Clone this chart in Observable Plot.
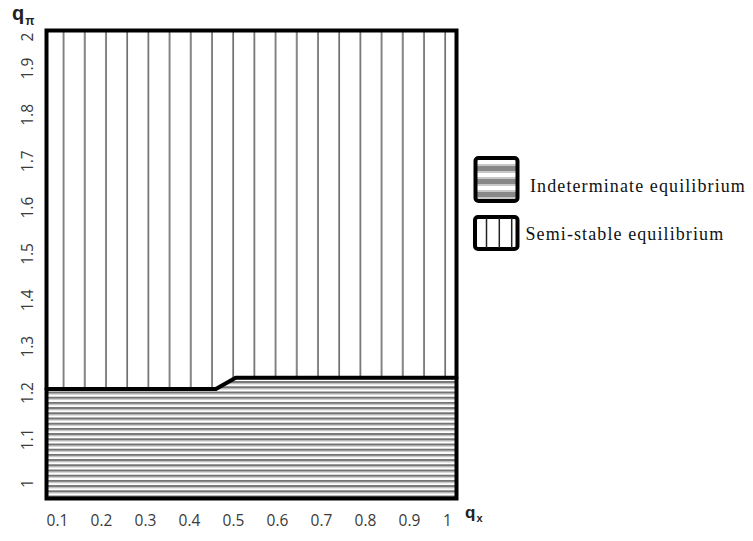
<!DOCTYPE html>
<html><head><meta charset="utf-8">
<script src="https://cdn.jsdelivr.net/npm/d3@7"></script>
<script src="https://cdn.jsdelivr.net/npm/@observablehq/plot@0.6"></script>
<style>body{margin:0;background:#fff}</style>
</head><body><div id="chart"></div>
<script>
// Boundary between the two equilibrium regions
const qxBoundary = [0.075, 0.46, 0.505, 1.007];
const qpiBoundary = [1.232, 1.232, 1.2565, 1.2565];
const xTicks = [0.1, 0.2, 0.3, 0.4, 0.5, 0.6, 0.7, 0.8, 0.9, 1];
const yTicks = [1, 1.1, 1.2, 1.3, 1.4, 1.5, 1.6, 1.7, 1.8, 1.9, 2];
const seriesNames = ["Indeterminate equilibrium", "Semi-stable equilibrium"];
const xDomain = [0.075, 1.007];
const yDomain = [0.996, 2.0056];

const boundary = qxBoundary.map((qx, i) => ({qx, qpi: qpiBoundary[i]}));
const tickStyle = {fontFamily: "'Open Sans', sans-serif", fontSize: 15.5, fill: "#3a3a3a"};
const inner = (arr) => arr.filter(d => d !== arr[0] && d !== arr[arr.length - 1]);

const chart = Plot.plot({
  width: 753, height: 541,
  marginLeft: 46, marginRight: 297, marginTop: 30, marginBottom: 43,
  x: {domain: xDomain, axis: null},
  y: {domain: yDomain, axis: null},
  marks: [
    Plot.areaY(boundary, {x: "qx", y1: () => yDomain[0], y2: "qpi", fill: "url(#hstripes)"}),
    Plot.areaY(boundary, {x: "qx", y1: "qpi", y2: () => yDomain[1], fill: "url(#vlines)"}),
    Plot.line(boundary, {x: "qx", y: "qpi", stroke: "#000", strokeWidth: 4}),
    Plot.frame({stroke: "#000", strokeWidth: 4}),
    // x tick labels
    Plot.text(xTicks.filter(d => d < 1), {x: d => d, frameAnchor: "bottom", dy: 27, text: d => String(d), ...tickStyle}),
    Plot.text(xTicks.filter(d => d === 1), {x: d => d, frameAnchor: "bottom", dy: 27, dx: -6, text: d => String(d), ...tickStyle}),
    // y tick labels (rotated)
    Plot.text(inner(yTicks), {y: d => d, frameAnchor: "left", dx: -18.5, rotate: -90, text: d => String(d), ...tickStyle}),
    Plot.text([yTicks[0]], {y: d => d, frameAnchor: "left", dx: -18.5, dy: -8.7, rotate: -90, text: d => String(d), ...tickStyle}),
    Plot.text([yTicks[yTicks.length - 1]], {y: d => d, frameAnchor: "left", dx: -18.5, dy: 8.4, rotate: -90, text: d => String(d), ...tickStyle})
  ]
});

const svg = d3.select(chart);
const defs = svg.insert("defs", ":first-child");
// vertical hatch
const v = defs.append("pattern").attr("id", "vlines").attr("patternUnits", "userSpaceOnUse")
  .attr("x", 10.5).attr("y", 0).attr("width", 21.2).attr("height", 10);
v.append("rect").attr("width", 21.2).attr("height", 10).attr("fill", "#fff");
v.append("rect").attr("x", 10).attr("width", 1.4).attr("height", 10).attr("fill", "#505050");
// horizontal stripes
const h = defs.append("pattern").attr("id", "hstripes").attr("patternUnits", "userSpaceOnUse")
  .attr("x", 0).attr("y", 1.5).attr("width", 10).attr("height", 5.2);
h.append("rect").attr("width", 10).attr("height", 5.2).attr("fill", "#fff");
h.append("rect").attr("y", 0).attr("width", 10).attr("height", 2.2).attr("fill", "#747474");
h.append("rect").attr("y", 2.2).attr("width", 10).attr("height", 0.9).attr("fill", "#bdbdbd");
// legend stripes
const lh = defs.append("pattern").attr("id", "lstripes").attr("patternUnits", "userSpaceOnUse")
  .attr("x", 0).attr("y", 160).attr("width", 10).attr("height", 13);
lh.append("rect").attr("width", 10).attr("height", 13).attr("fill", "#fff");
lh.append("rect").attr("y", 4).attr("width", 10).attr("height", 2).attr("fill", "#c8c8c8");
lh.append("rect").attr("y", 6).attr("width", 10).attr("height", 5).attr("fill", "#888");
lh.append("rect").attr("y", 11).attr("width", 10).attr("height", 2).attr("fill", "#c8c8c8");

// legend
const lg = svg.append("g").attr("text-anchor", "start");
lg.append("rect").attr("x", 475.5).attr("y", 158).attr("width", 42).attr("height", 43).attr("rx", 3)
  .attr("fill", "url(#lstripes)").attr("stroke", "#000").attr("stroke-width", 4);
lg.append("rect").attr("x", 475).attr("y", 217).attr("width", 42.5).attr("height", 32).attr("rx", 3)
  .attr("fill", "#fff").attr("stroke", "#000").attr("stroke-width", 4);
[486.5, 499.3, 511.7].forEach(x => lg.append("line").attr("x1", x).attr("x2", x).attr("y1", 218).attr("y2", 248)
  .attr("stroke", "#222").attr("stroke-width", 1.5));
lg.append("text").attr("x", 530).attr("y", 192).attr("text-anchor", "start").text(seriesNames[0])
  .attr("font-family", "'Liberation Serif', serif").attr("font-size", 18).attr("letter-spacing", 1.1).attr("fill", "#111");
lg.append("text").attr("x", 525.5).attr("y", 240).attr("text-anchor", "start").text(seriesNames[1])
  .attr("font-family", "'Liberation Serif', serif").attr("font-size", 18).attr("letter-spacing", 1.1).attr("fill", "#111");

// axis titles
const t1 = svg.append("text").attr("x", 12).attr("y", 20).attr("text-anchor", "start").attr("font-family", "'Liberation Sans', Arial, sans-serif").attr("font-weight", "bold").attr("font-size", 20).attr("fill", "#222");
t1.append("tspan").text("q");
t1.append("tspan").attr("font-size", 12).attr("dy", 5).attr("dx", 1).text("π");
const t2 = svg.append("text").attr("x", 465).attr("y", 518).attr("text-anchor", "start").attr("font-family", "'Liberation Sans', Arial, sans-serif").attr("font-weight", "bold").attr("font-size", 17).attr("fill", "#222");
t2.append("tspan").text("q");
t2.append("tspan").attr("font-size", 11).attr("dy", 4).attr("dx", 1).text("x");

document.getElementById("chart").appendChild(chart);
</script></body></html>
